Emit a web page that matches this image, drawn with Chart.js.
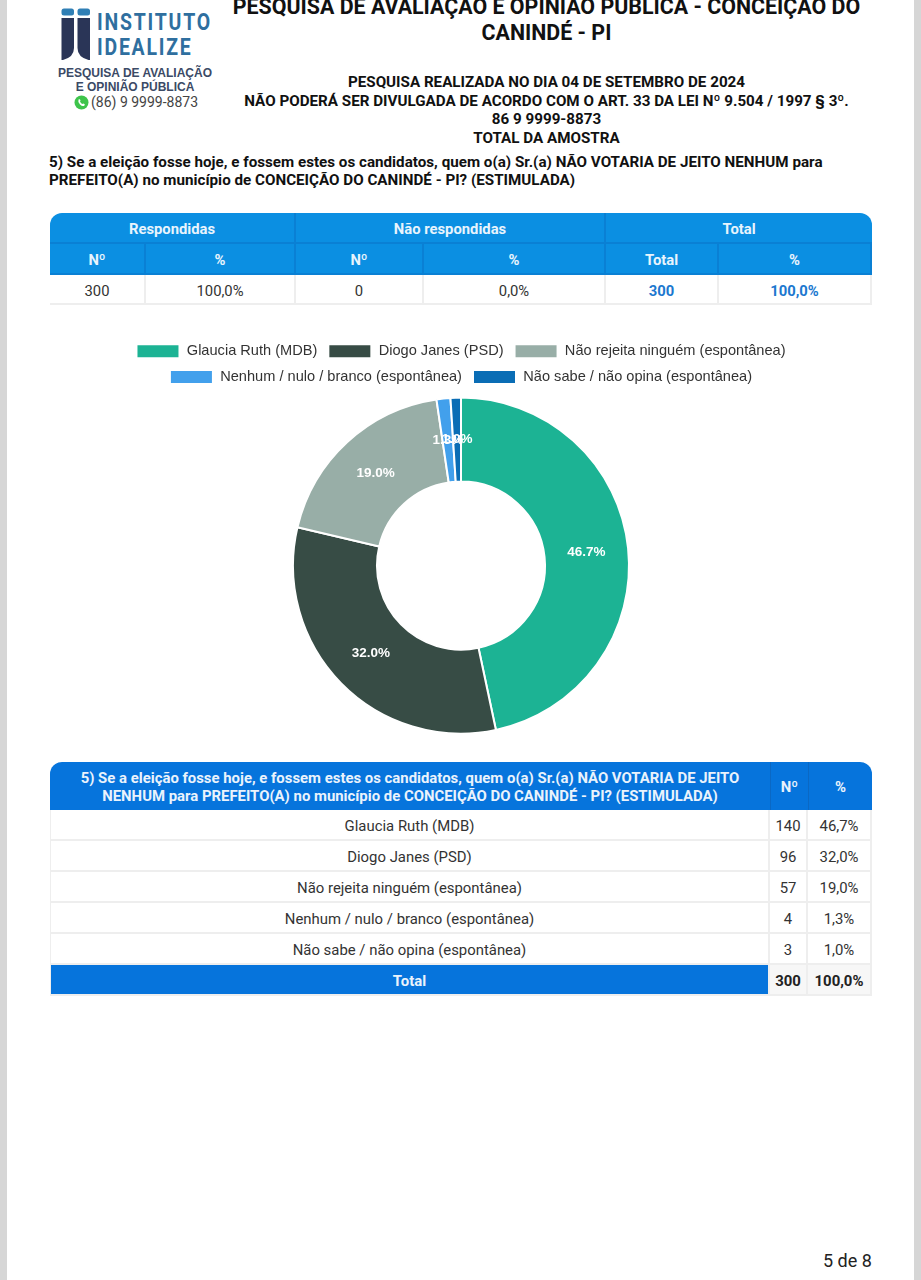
<!DOCTYPE html>
<html lang="pt-BR">
<head>
<meta charset="utf-8">
<title>Pesquisa - Conceição do Canindé</title>
<script src="https://cdn.jsdelivr.net/npm/chart.js@4"></script>
<style>
html, body { margin: 0; padding: 0; background: #fff; }
body { width: 921px; height: 1280px; position: relative; overflow: hidden; font-family: Roboto, sans-serif; color: #111; }
.edge { position: absolute; top: 0; width: 7px; height: 1280px; background: #d6d6d6; }
.txt { position: absolute; text-align: center; white-space: nowrap; }
.b { font-weight: 700; }
.logo { font-size: 24px; letter-spacing: 2.2px; color: #2f6f9f; transform: scaleX(.81); transform-origin: left top; }
table { position: absolute; border-collapse: separate; border-spacing: 0; table-layout: fixed; font-size: 14.8px; }
td, th { padding: 3px 0 0 0; text-align: center; overflow: hidden; white-space: nowrap; box-sizing: border-box; }
#t1 th { background: #0b8fe2; color: #e8f4fd; font-weight: 700; border-right: 2px solid #0a80d4; border-bottom: 2px solid #0a80d4; height: 31px; }
#t1 td { height: 30px; border-right: 2px solid #eee; border-bottom: 2px solid #eee; color: #333; }
#t1 td.tot { color: #1c78cf; font-weight: 700; }
#t2 th { background: #0674dc; color: #eaf3fc; font-weight: 700; height: 48px; line-height: 18px; border-left: 1px solid #0a68c4; font-size: 14.9px; padding-top: 1px; }
#t2 td { height: 31px; border-bottom: 2px solid #eee; border-right: 2px solid #eee; color: #333; font-size: 14.9px; }
#t2 td:first-child { border-left: 1px solid #eee; }
#t2 td.tl { background: #0674dc; color: #eaf3fc; font-weight: 700; }
#t2 td.ts { background: #f7f7f7; font-weight: 700; color: #222; }
#chartBox { position: absolute; left: 50px; top: 333px; width: 822px; height: 404px; }
</style>
</head>
<body>
<div class="edge" style="left:0"></div>
<div class="edge" style="left:914px"></div>

<svg style="position:absolute;left:60px;top:8px" width="32" height="54" viewBox="0 0 32 54">
  <rect x="1.5" y="0.5" width="12.5" height="7" rx="2.5" fill="#2f7fb5"/>
  <rect x="17.5" y="0.5" width="12.5" height="7" rx="2.5" fill="#2f7fb5"/>
  <path d="M1.5 10H14V40Q14 49 3 52H1.5Z" fill="#2a3557"/>
  <path d="M17.5 10H30V52H28.5Q17.5 49 17.5 40Z" fill="#2a3557"/>
</svg>
<div class="txt b logo" style="left:97px;top:8px">INSTITUTO</div>
<div class="txt b logo" style="left:97px;top:33px">IDEALIZE</div>
<div class="txt b" style="left:35px;width:200px;top:67px;font-size:12px;line-height:13.5px;color:#3b4a66;font-family:'Liberation Sans'">PESQUISA DE AVALIAÇÃO<br>E OPINIÃO PÚBLICA</div>
<svg style="position:absolute;left:74px;top:95px" width="15" height="15" viewBox="0 0 15 15">
  <circle cx="7.5" cy="7.5" r="7" fill="#3ec44b"/>
  <path d="M4.5 4.5Q6 3.5 6.5 5.5L6 6.5Q7 8.500 8.500 9L9.500 8.500Q11.500 9 10.500 10.500Q8.500 12 6 9.500Q3.500 7 4.500 4.500Z" fill="#fff"/>
</svg>
<div class="txt" style="left:91px;top:94px;font-size:14px;color:#444">(86) 9 9999-8873</div>

<div class="txt b" style="left:140px;width:813px;top:-6px;font-size:21.4px;line-height:26px;">PESQUISA DE AVALIAÇÃO E OPINIÃO PÚBLICA - CONCEIÇÃO DO<br>CANINDÉ - PI</div>
<div class="txt b" style="left:140px;width:813px;top:73px;font-size:15.2px;line-height:18.5px;">PESQUISA REALIZADA NO DIA 04 DE SETEMBRO DE 2024<br>NÃO PODERÁ SER DIVULGADA DE ACORDO COM O ART. 33 DA LEI Nº 9.504 / 1997 § 3º.<br>86 9 9999-8873<br>TOTAL DA AMOSTRA</div>
<div class="txt b" style="left:49px;top:153px;font-size:15.2px;line-height:18px;text-align:left">5) Se a eleição fosse hoje, e fossem estes os candidatos, quem o(a) Sr.(a) NÃO VOTARIA DE JEITO NENHUM para<br>PREFEITO(A) no município de CONCEIÇÃO DO CANINDÉ - PI? (ESTIMULADA)</div>

<table id="t1" style="left:50px;top:213px;width:822px"></table>

<div id="chartBox"><canvas id="myChart" width="822" height="404"></canvas></div>

<table id="t2" style="left:50px;top:762px;width:822px"></table>

<div class="txt" style="left:823px;top:1250px;font-size:18px;color:#222">5 de 8</div>

<script>
var labels = ["Glaucia Ruth (MDB)", "Diogo Janes (PSD)", "Não rejeita ninguém (espontânea)", "Nenhum / nulo / branco (espontânea)", "Não sabe / não opina (espontânea)"];
var counts = [140, 96, 57, 4, 3];
var percents = ["46,7%", "32,0%", "19,0%", "1,3%", "1,0%"];
var sliceColors = ["#1cb394", "#374c45", "#98aea7", "#42a0ec", "#0a6db5"];
var summaryHead = ["Respondidas", "Não respondidas", "Total"];
var summarySub = ["Nº", "%", "Nº", "%", "Total", "%"];
var summaryRow = ["300", "100,0%", "0", "0,0%", "300", "100,0%"];
var summaryCols = [96, 150, 128, 182, 113, 153];
var question = "5) Se a eleição fosse hoje, e fossem estes os candidatos, quem o(a) Sr.(a) NÃO VOTARIA DE JEITO<br>NENHUM para PREFEITO(A) no município de CONCEIÇÃO DO CANINDÉ - PI? (ESTIMULADA)";

function colgroup(widths) {
    var s = "<colgroup>";
    for (var i = 0; i < widths.length; i++) {
        s += '<col style="width:' + widths[i] + 'px">';
    }
    return s + "</colgroup>";
}

function buildSummary() {
    var h = colgroup(summaryCols);
    h += "<tr>";
    h += '<th colspan="2" style="border-top-left-radius:12px">' + summaryHead[0] + "</th>";
    h += '<th colspan="2">' + summaryHead[1] + "</th>";
    h += '<th colspan="2" style="border-top-right-radius:12px;border-right:0">' + summaryHead[2] + "</th>";
    h += "</tr><tr>";
    for (var i = 0; i < summarySub.length; i++) {
        h += "<th>" + summarySub[i] + "</th>";
    }
    h += "</tr><tr>";
    for (var j = 0; j < summaryRow.length; j++) {
        h += "<td" + (j > 3 ? ' class="tot"' : "") + ">" + summaryRow[j] + "</td>";
    }
    h += "</tr>";
    document.getElementById("t1").innerHTML = h;
}

function buildDetail() {
    var h = colgroup([720, 38, 64]);
    h += '<tr><th style="border-top-left-radius:12px;border-left:0">' + question + "</th><th>Nº</th>";
    h += '<th style="border-top-right-radius:12px">%</th></tr>';
    for (var i = 0; i < labels.length; i++) {
        h += "<tr><td>" + labels[i] + "</td><td>" + counts[i] + "</td><td>" + percents[i] + "</td></tr>";
    }
    h += '<tr><td class="tl">Total</td><td class="ts">300</td><td class="ts">100,0%</td></tr>';
    document.getElementById("t2").innerHTML = h;
}

// labels on the slices, the small ones overlap like in the original
var sliceLabels = {
    id: "sliceLabels",
    afterDatasetsDraw: function(chart) {
        var ctx = chart.ctx;
        var data = chart.data.datasets[0].data;
        var total = 0;
        for (var i = 0; i < data.length; i++) total += data[i];
        ctx.save();
        ctx.fillStyle = "#fff";
        ctx.font = "bold 13.5px 'Liberation Sans'";
        ctx.textAlign = "center";
        ctx.textBaseline = "middle";
        chart.getDatasetMeta(0).data.forEach(function(arc, i) {
            var p = arc.tooltipPosition();
            ctx.fillText((data[i] / total * 100).toFixed(1) + "%", p.x, p.y);
        });
        ctx.restore();
    }
};

function drawChart() {
    new Chart("myChart", {
        type: "doughnut",
        data: {
            labels: labels,
            datasets: [{
                data: counts,
                backgroundColor: sliceColors,
                borderColor: "#fff",
                borderWidth: 2
            }]
        },
        options: {
            responsive: false,
            animation: false,
            radius: 168,
            cutout: "50%",
            layout: { padding: 0 },
            plugins: {
                tooltip: { enabled: false },
                legend: {
                    position: "top",
                    labels: {
                        boxWidth: 43,
                        boxHeight: 14,
                        padding: 11,
                        color: "#333",
                        font: { family: "'Liberation Sans'", size: 14.6 }
                    }
                }
            }
        },
        plugins: [sliceLabels]
    });
}

buildSummary();
buildDetail();
drawChart();
</script>
</body>
</html>
